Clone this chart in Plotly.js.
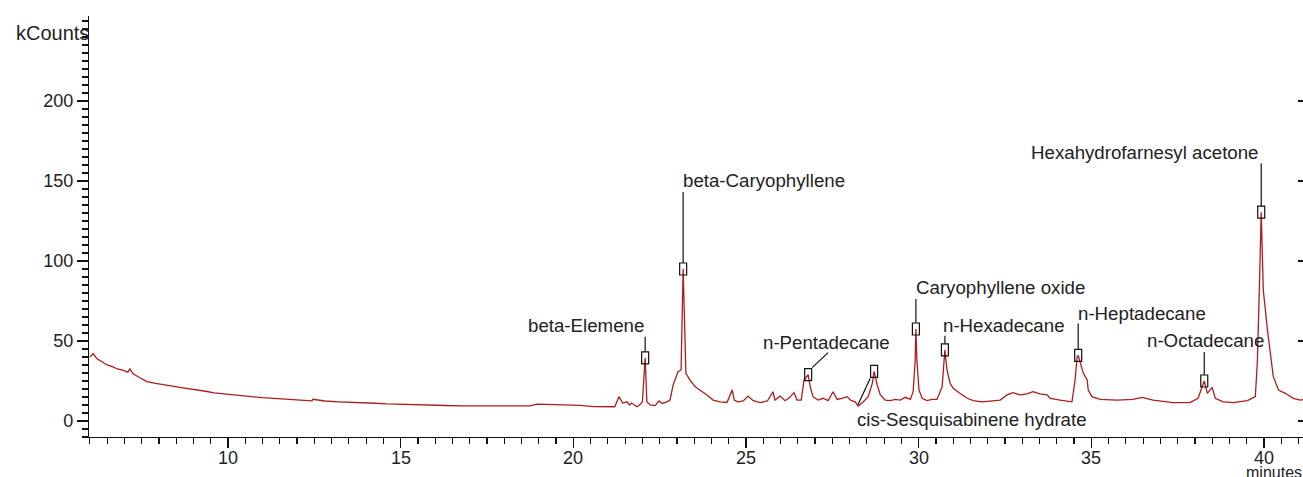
<!DOCTYPE html>
<html>
<head>
<meta charset="utf-8">
<script src="https://cdn.plot.ly/plotly-3.0.1.min.js"></script>
<style>
  html, body { margin: 0; padding: 0; background: #fff; }
  #chart { width: 1303px; height: 477px; }
</style>
</head>
<body>
<div id="chart"></div>
<script>
// Chromatogram trace (retention time in minutes, signal in kCounts)
const timeMin = [
  6.00, 6.05, 6.10, 6.20, 6.35, 6.50, 6.65, 6.80, 6.95, 7.10, 7.16, 7.25, 7.45, 7.65, 7.90, 8.12,
  8.35, 8.60, 8.85, 9.10, 9.35, 9.60, 9.85, 10.06, 10.30, 10.50, 10.75, 11.00, 11.35, 11.70,
  12.10, 12.43, 12.46, 12.80, 13.20, 13.55, 13.90, 14.25, 14.60, 15.00, 15.36, 15.80, 16.30,
  16.80, 17.30, 17.65, 18.00, 18.40, 18.75, 18.95, 19.20, 19.50, 19.85, 20.20, 20.60, 20.90,
  21.20, 21.32, 21.43, 21.55, 21.63, 21.69, 21.84, 21.92, 22.00, 22.08, 22.13,
  22.22, 22.37, 22.48, 22.57, 22.71, 22.80, 22.89, 23.03, 23.12, 23.18, 23.26, 23.38, 23.53,
  23.67, 23.87, 24.05, 24.25, 24.45, 24.60, 24.66, 24.77, 24.92, 25.06, 25.21, 25.41, 25.62,
  25.78, 25.84, 25.99, 26.13, 26.27, 26.39, 26.48, 26.60, 26.68, 26.80, 26.86, 26.94, 27.09,
  27.23, 27.38, 27.52, 27.64, 27.78, 27.93, 28.02, 28.16, 28.25, 28.40, 28.54, 28.66, 28.71,
  28.80, 28.89, 29.03, 29.18, 29.32, 29.47, 29.61, 29.76, 29.84, 29.90, 29.92, 29.95, 30.01,
  30.10, 30.24, 30.39, 30.53, 30.68, 30.74, 30.76, 30.82, 30.91, 31.00, 31.12, 31.26, 31.41,
  31.58, 31.84, 32.07, 32.36, 32.56, 32.73, 32.94, 33.14, 33.31, 33.51, 33.72, 33.81, 34.10,
  34.44, 34.53, 34.59, 34.62, 34.68, 34.77, 34.88, 34.91, 35.02, 35.26, 35.75, 36.21, 36.47,
  36.79, 37.37, 37.86, 38.09, 38.21, 38.27, 38.36, 38.50, 38.59, 38.82, 39.11, 39.52, 39.75,
  39.81, 39.87, 39.92, 39.95, 39.98, 40.10, 40.19, 40.27, 40.42, 40.62, 40.85, 41.05, 41.20
];
const kCounts = [
  40.0, 41.0, 42.0, 39.0, 37.0, 35.0, 34.0, 32.5, 31.8, 30.5, 32.5, 29.5, 27.0, 24.6, 23.5, 22.5,
  21.9, 21.0, 20.3, 19.4, 18.6, 17.6, 17.0, 16.3, 15.9, 15.4, 15.1, 14.6, 14.1, 13.6,
  13.0, 12.6, 13.6, 12.5, 12.0, 11.8, 11.5, 11.1, 10.7, 10.4, 10.0, 9.9, 9.7,
  9.5, 9.4, 9.3, 9.3, 9.4, 9.4, 10.6, 10.4, 10.2, 10.0, 9.8, 9.0, 8.9,
  8.9, 15.2, 11.2, 12.0, 10.0, 11.2, 8.9, 10.0, 12.0, 39.5, 12.0,
  10.0, 9.6, 12.5, 11.0, 12.0, 13.1, 22.5, 30.8, 31.9, 95.0, 29.8, 25.6, 21.4,
  19.4, 16.3, 13.1, 12.0, 11.6, 19.4, 13.1, 12.0, 12.5, 15.6, 12.7, 11.5, 12.5,
  18.3, 13.1, 15.6, 12.7, 14.8, 17.7, 13.1, 13.1, 25.6, 29.0, 21.4, 15.2, 13.1,
  14.2, 12.7, 18.3, 13.5, 14.2, 15.2, 13.1, 12.0, 9.4, 12.0, 15.2, 23.6, 31.0,
  22.5, 16.3, 13.1, 12.7, 13.5, 13.1, 14.8, 13.5, 18.3, 38.0, 57.5, 38.0, 19.4,
  14.2, 12.7, 13.5, 13.5, 21.4, 43.3, 44.5, 31.9, 23.6, 20.4, 18.3, 16.3, 14.2,
  12.7, 12.0, 12.5, 13.1, 16.3, 17.7, 16.3, 16.9, 18.3, 16.9, 16.3, 14.2, 13.1,
  12.0, 25.6, 40.2, 41.0, 36.0, 29.8, 25.6, 19.4, 15.2, 13.5, 13.1, 13.5, 14.8,
  13.1, 11.5, 11.5, 14.2, 21.4, 25.0, 17.3, 21.0, 14.2, 12.0, 11.5, 12.7, 15.2,
  38.0, 86.0, 130.5, 105.8, 81.9, 56.9, 40.2, 27.7, 19.4, 17.3, 14.2, 13.1, 13.5
];

// Identified peaks
const peakNames = [
  "beta-Elemene", "beta-Caryophyllene", "n-Pentadecane", "cis-Sesquisabinene hydrate",
  "Caryophyllene oxide", "n-Hexadecane", "n-Heptadecane", "n-Octadecane",
  "Hexahydrofarnesyl acetone"
];
const peakTimes = [22.08, 23.18, 26.80, 28.71, 29.92, 30.76, 34.62, 38.27, 39.92];
const peakHeights = [39.5, 95.0, 29.0, 31.0, 57.5, 44.5, 41.0, 25.0, 130.5];

// Axis tick labels
const yTickVals = [0, 50, 100, 150, 200];
const xTickVals = [10, 15, 20, 25, 30, 35, 40];

// Label placement (pixel offsets from the peak marker) - styling only
const labelStyle = [
  {anchor: "right",  dx: 1,   dy: 32,  line: [0, 6, 0, 21]},
  {anchor: "left",   dx: -2,  dy: 88,  line: [0, 6, 0, 77]},
  {anchor: "center", dx: 18,  dy: 32,  line: [4, 7, 20, 22]},
  {anchor: "left",   dx: -19, dy: -48, line: [-4, -7, -16, -33]},
  {anchor: "left",   dx: -2,  dy: 41,  line: [0, 6, 0, 30]},
  {anchor: "left",   dx: -4,  dy: 24,  line: [0, 6, 0, 14]},
  {anchor: "left",   dx: -2,  dy: 42,  line: [0, 6, 0, 32]},
  {anchor: "center", dx: 1,   dy: 40,  line: [0, 6, 0, 29]},
  {anchor: "right",  dx: 0,   dy: 60,  line: [0, 6, 0, 49]}
];

const FONT = "Liberation Sans, Arial, sans-serif";
const TXT = "#222222";

const trace = {
  x: timeMin, y: kCounts, type: "scatter", mode: "lines",
  line: {color: "rgb(176,28,28)", width: 1.3},
  hoverinfo: "skip", showlegend: false
};

const shapes = [];
const annotations = [];
peakNames.forEach((name, i) => {
  const st = labelStyle[i];
  shapes.push({
    type: "rect", xref: "x", yref: "y",
    xsizemode: "pixel", ysizemode: "pixel",
    xanchor: peakTimes[i], yanchor: peakHeights[i],
    x0: -3.5, x1: 3.5, y0: -6, y1: 6,
    line: {color: "#111", width: 1.2}, fillcolor: "rgba(0,0,0,0)"
  });
  shapes.push({
    type: "line", xref: "x", yref: "y",
    xsizemode: "pixel", ysizemode: "pixel",
    xanchor: peakTimes[i], yanchor: peakHeights[i],
    x0: st.line[0], y0: st.line[1], x1: st.line[2], y1: st.line[3],
    line: {color: "#111", width: 1.2}
  });
  annotations.push({
    text: name, xref: "x", yref: "y", x: peakTimes[i], y: peakHeights[i],
    xanchor: st.anchor, yanchor: "middle", xshift: st.dx, yshift: st.dy,
    showarrow: false, font: {family: FONT, size: 18.7, color: TXT}
  });
});

// x tick labels placed just under the tick marks
xTickVals.forEach(v => {
  annotations.push({
    text: String(v), xref: "x", yref: "paper", x: v, y: 0,
    xanchor: "center", yanchor: "middle", yshift: -21,
    showarrow: false, font: {family: FONT, size: 18, color: TXT}
  });
});

annotations.push({
  text: "kCounts", xref: "paper", yref: "paper", x: 0, y: 1,
  xanchor: "right", yanchor: "middle", xshift: 2, yshift: -17,
  showarrow: false, font: {family: FONT, size: 20, color: TXT}
});
annotations.push({
  text: "minutes", xref: "paper", yref: "paper", x: 1, y: 0,
  xanchor: "left", yanchor: "middle", xshift: -59, yshift: -35,
  showarrow: false, font: {family: FONT, size: 16, color: TXT}
});

const layout = {
  width: 1303, height: 477,
  margin: {l: 89, r: 0, t: 16, b: 40, pad: 0},
  paper_bgcolor: "#ffffff", plot_bgcolor: "#ffffff",
  font: {family: FONT, size: 18, color: TXT},
  xaxis: {
    range: [5.975, 41.13], showgrid: false, zeroline: false,
    showline: true, linecolor: "#111", linewidth: 1.2,
    ticks: "outside", ticklen: 10, tickwidth: 1.2, tickcolor: "#111",
    tickmode: "array", tickvals: xTickVals, showticklabels: false,
    minor: {ticks: "outside", ticklen: 6, tickwidth: 1.2, tickcolor: "#111", dtick: 0.5, tick0: 0, showgrid: false}
  },
  yaxis: {
    range: [-10, 253.1], showgrid: false, zeroline: false,
    showline: true, linecolor: "#111", linewidth: 1.2,
    ticks: "outside", ticklen: 11, tickwidth: 1.2, tickcolor: "#111",
    tickmode: "array", tickvals: yTickVals, ticktext: yTickVals.map(String),
    tickfont: {family: FONT, size: 18, color: TXT},
    minor: {ticks: "outside", ticklen: 6, tickwidth: 1.2, tickcolor: "#111", dtick: 5, tick0: 0, showgrid: false}
  },
  yaxis2: {
    overlaying: "y", side: "right", range: [-10, 253.1],
    showgrid: false, zeroline: false, showline: false, showticklabels: false,
    ticks: "inside", ticklen: 5, tickwidth: 1.2, tickcolor: "#111",
    tickmode: "array", tickvals: yTickVals
  },
  shapes: shapes,
  annotations: annotations,
  showlegend: false
};

const dummy = {x: [timeMin[0]], y: [kCounts[0]], yaxis: "y2", type: "scatter", mode: "lines",
  line: {width: 0}, hoverinfo: "skip", showlegend: false};

Plotly.newPlot("chart", [trace, dummy], layout, {staticPlot: true, displayModeBar: false});
</script>
</body>
</html>
